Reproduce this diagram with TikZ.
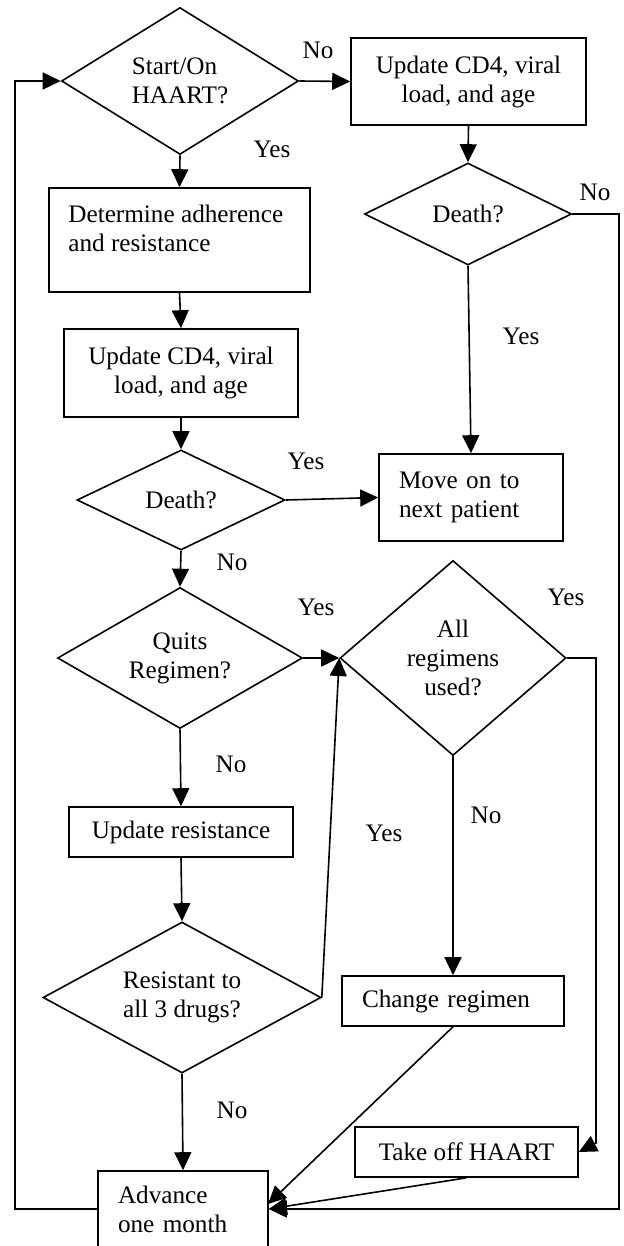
\documentclass[tikz,border=0pt]{standalone}
\usepackage{fontspec}
\setmainfont{Liberation Serif}
\usetikzlibrary{shapes.geometric,arrows.meta}
\begin{document}
\begin{tikzpicture}[x=0.5pt,y=-0.5pt,
  font=\fontsize{12.6pt}{14.5pt}\selectfont,
  box/.style={draw, line width=0.8pt, rectangle, inner sep=0pt, align=center},
  lbox/.style={box, align=left, inner xsep=10pt},
  dia/.style={draw, line width=0.8pt, diamond, shape aspect=1.5, inner sep=0pt, align=center},
  lbl/.style={inner sep=0pt},
  conn/.style={line width=0.8pt, -{Triangle[length=9pt,width=8.5pt]}}]
\useasboundingbox (0,0) rectangle (623,1246);
\clip (0,0) rectangle (623,1246);

% nodes
\node[dia, align=left, minimum width=118.5pt, minimum height=73.5pt] (d1) at (180,81) {Start/On\\HAART?};
\node[box, minimum width=117.5pt, minimum height=43.5pt] (bA) at (468.5,81.5) {Update CD4, viral\\load, and age};
\node[dia, minimum width=103.5pt, minimum height=51pt] (d3) at (468,214) {Death?};
\node[box, minimum width=130.5pt, minimum height=52pt] (bB) at (179.5,240) {};
\node[lbl, anchor=north west, align=left] (bBt) at (68,205) {Determine adherence\\and resistance};
\node[box, minimum width=117pt, minimum height=44pt] (bC) at (181,373) {Update CD4, viral\\load, and age};
\node[dia, minimum width=104pt, minimum height=50pt] (d2) at (181,500) {Death?};
\node[lbox, text width=72pt, minimum height=43.5pt] (bD) at (471,497.5) {Move on to\\next patient};
\node[dia, minimum width=122.5pt, minimum height=70.5pt] (d4) at (180,658) {Quits\\Regimen?};
\node[dia, minimum width=113pt, minimum height=97.5pt] (d5) at (453,658) {All\\regimens\\used?};
\node[box, minimum width=112pt, minimum height=25pt] (bE) at (181,832) {Update resistance};
\node[dia, minimum width=139pt, minimum height=75.5pt] (d6) at (182,997.5) {Resistant to\\all 3 drugs?};
\node[lbox, text width=91pt, minimum height=25pt] (bF) at (453,1001) {Change regimen};
\node[box, minimum width=111.5pt, minimum height=25pt] (bG) at (466.5,1152) {Take off HAART};
\node[lbox, text width=65pt, minimum height=38pt] (bH) at (183,1209) {Advance\\one month};
\coordinate (bHin) at (268,1204);

% connectors
\draw[conn] (d1.east) -- (bA.west);
\draw[conn] (d1.south) -- (bB.north);
\draw[conn] (bA.south) -- (d3.north);
\draw[conn] (d3.south) -- (bD.north);
\draw[conn] (d3.east) -| (619,1209) -- (bH.east);
\draw[conn] (bB.south) -- (bC.north);
\draw[conn] (bC.south) -- (d2.north);
\draw[conn] (d2.east) -- (bD.west);
\draw[conn] (d2.south) -- (d4.north);
\draw[conn] (d4.east) -- (d5.west);
\draw[conn] (d4.south) -- (bE.north);
\draw[conn] (bE.south) -- (d6.north);
\draw[conn] (d6.east) -- (d5.west);
\draw[conn] (d6.south) -- (bH.north);
\draw[conn] (d5.south) -- (bF.north);
\draw[conn] (d5.east) -- (596,658) -- (596,1143) -- (bG.east);
\draw[conn] (bF.south) -- (bHin);
\draw[conn] (bG.south) -- (bH.east);
\draw[conn] (bH.west) -| (15,81) -- (d1.west);

% labels
\node[lbl] (l1) at (318,50) {No};
\node[lbl] (l2) at (272,149) {Yes};
\node[lbl] (l3) at (595,192) {No};
\node[lbl] (l4) at (521,336) {Yes};
\node[lbl] (l5) at (306,461) {Yes};
\node[lbl] (l6) at (232,562) {No};
\node[lbl] (l7) at (316,607) {Yes};
\node[lbl] (l8) at (566,597) {Yes};
\node[lbl] (l9) at (231,764) {No};
\node[lbl] (l10) at (486,815) {No};
\node[lbl] (l11) at (384,833) {Yes};
\node[lbl] (l12) at (232,1110) {No};
\end{tikzpicture}
\end{document}
